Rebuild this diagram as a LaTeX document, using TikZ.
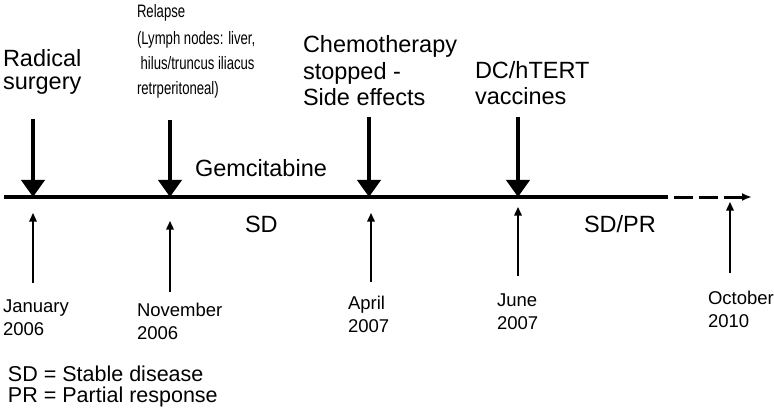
\documentclass[tikz,border=0pt]{standalone}
\usepackage{fontspec}
\setmainfont{Liberation Sans}
\newfontfamily\narrowfont[FakeStretch=0.73]{Liberation Sans}
\usetikzlibrary{arrows.meta}
\begin{document}
\begin{tikzpicture}[x=1pt,y=-1pt,
  lbl/.style={align=left, anchor=base west, inner sep=0pt, outer sep=0pt},
  bigtxt/.style={lbl, font=\fontsize{23.5}{26.5}\selectfont},
  midtxt/.style={lbl, font=\fontsize{18.5}{22.5}\selectfont},
  legtxt/.style={lbl, font=\fontsize{21.5}{21.5}\selectfont},
  narrowtxt/.style={lbl, font=\narrowfont\fontsize{18}{25}\selectfont},
  bigarrow/.style={line width=4pt, -{Triangle[length=17pt,width=23pt]}},
  thinarrow/.style={line width=1.5pt, -{Triangle[length=8.5pt,width=7.5pt]}}]
\useasboundingbox (0,0) rectangle (774,409);

% timeline
\coordinate (L0) at (4,197);
\coordinate (L1) at (668,197);
\coordinate (L2) at (752,197);
\draw[line width=4pt] (L0) -- (L1);
\draw[line width=3pt, dash pattern=on 19pt off 6pt, dash phase=19pt, -{Latex[length=10pt,width=8pt]}] (L1) -- (L2);

% big down arrows
\coordinate (a1) at (33,119);  \coordinate (b1) at (33,197);
\coordinate (a2) at (170,120); \coordinate (b2) at (170,197);
\coordinate (a3) at (369,117); \coordinate (b3) at (369,197);
\coordinate (a4) at (518,117); \coordinate (b4) at (518,197);
\draw[bigarrow] (a1) -- (b1);
\draw[bigarrow] (a2) -- (b2);
\draw[bigarrow] (a3) -- (b3);
\draw[bigarrow] (a4) -- (b4);

% thin up arrows
\coordinate (u1) at (33,283);  \coordinate (v1) at (33,213);
\coordinate (u2) at (170,292); \coordinate (v2) at (170,221);
\coordinate (u3) at (371,282); \coordinate (v3) at (371,213);
\coordinate (u4) at (518,276); \coordinate (v4) at (518,207);
\coordinate (u5) at (730,273); \coordinate (v5) at (730,202);
\draw[thinarrow] (u1) -- (v1);
\draw[thinarrow] (u2) -- (v2);
\draw[thinarrow] (u3) -- (v3);
\draw[thinarrow] (u4) -- (v4);
\draw[thinarrow] (u5) -- (v5);

% top labels (anchored at the baseline of the last line)
\node[bigtxt] (surg) at (3,90) {Radical\\[-3pt]surgery};
\node[narrowtxt] (rel) at (137,95) {Relapse\\[2pt](Lymph nodes: liver,\\ \ hilus/truncus iliacus\\retrperitoneal)};
\node[bigtxt] (chemo) at (303,106) {Chemotherapy\\stopped -\\Side effects};
\node[bigtxt] (dc) at (475,105) {DC/hTERT\\vaccines};
\node[bigtxt] (gem) at (195,177) {Gemcitabine};

% response labels
\node[bigtxt] (sd) at (245,233) {SD};
\node[bigtxt] (sdpr) at (584,233) {SD/PR};

% dates
\node[midtxt] (d1) at (3,335) {January\\2006};
\node[midtxt] (d2) at (137,339) {November\\2006};
\node[midtxt] (d3) at (348,332) {April\\2007};
\node[midtxt] (d4) at (497,329) {June\\2007};
\node[midtxt] (d5) at (708,327) {October\\2010};

% legend
\node[legtxt] (leg1) at (8,381) {SD = Stable disease};
\node[legtxt] (leg2) at (8,402) {PR = Partial response};
\end{tikzpicture}
\end{document}
